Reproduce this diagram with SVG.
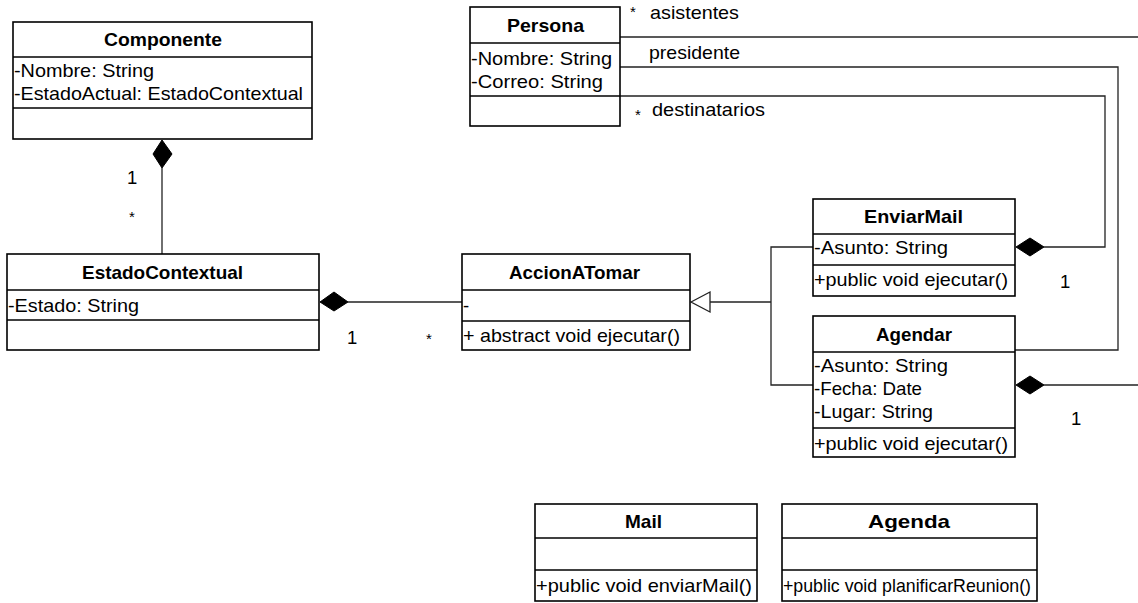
<svg xmlns="http://www.w3.org/2000/svg" width="1138" height="603" viewBox="0 0 1138 603">
  <style>
    .box { fill: #ffffff; stroke: #000000; stroke-width: 1.6; }
    .div { stroke: #000000; stroke-width: 1.6; }
    .title { font-family: "Liberation Sans", Arial, sans-serif; font-size: 18.5px; font-weight: bold; text-anchor: middle; fill: #000; }
    .txt { font-family: "Liberation Sans", Arial, sans-serif; font-size: 18.5px; fill: #000; }
    .lbl { font-family: "Liberation Sans", Arial, sans-serif; font-size: 18.5px; fill: #000; }
    .ast { font-family: "Liberation Sans", Arial, sans-serif; font-size: 15px; fill: #000; }
    .edge { fill: none; stroke: #222222; stroke-width: 1.3; }
    .dia { fill: #000000; stroke: #000000; stroke-width: 1; }
  </style>
  <rect width="1138" height="603" fill="#ffffff"/>

  <!-- connectors -->
  <g id="connectors">
    <!-- Componente composes EstadoContextual -->
    <line class="edge" x1="162" y1="168" x2="162" y2="254"/>
    <polygon class="dia" points="162,140 172,154 162,168 153,154"/>
    <!-- EstadoContextual composes AccionATomar -->
    <line class="edge" x1="348" y1="302" x2="462" y2="302"/>
    <polygon class="dia" points="320,302 334,292 348,302 334,311"/>
    <!-- generalization to AccionATomar -->
    <polyline class="edge" points="710,302 771,302"/>
    <polyline class="edge" points="813,247 771,247 771,385 813,385"/>
    <polygon points="691,302 710,292 710,312" fill="#ffffff" stroke="#222222" stroke-width="1.3"/>
    <!-- Persona associations -->
    <line class="edge" x1="620" y1="37" x2="1138" y2="37"/>
    <polyline class="edge" points="620,67 1118,67 1118,350 1015,350"/>
    <polyline class="edge" points="620,96 1105,96 1105,247 1044,247"/>
    <polygon class="dia" points="1016,247 1030,238 1044,247 1030,256"/>
    <line class="edge" x1="1044" y1="385" x2="1138" y2="385"/>
    <polygon class="dia" points="1016,385 1030,376 1044,385 1030,394"/>
    <!-- multiplicities and role names -->
    <text class="lbl" x="127" y="184">1</text>
    <text class="ast" x="129" y="222">*</text>
    <text class="lbl" x="347" y="344">1</text>
    <text class="ast" x="426" y="344">*</text>
    <text class="lbl" x="1060" y="288">1</text>
    <text class="lbl" x="1071" y="425">1</text>
    <text class="ast" x="630" y="17">*</text>
    <text class="lbl" x="650" y="19" textLength="89" lengthAdjust="spacingAndGlyphs">asistentes</text>
    <text class="lbl" x="649" y="59" textLength="91" lengthAdjust="spacingAndGlyphs">presidente</text>
    <text class="ast" x="635" y="120">*</text>
    <text class="lbl" x="652" y="116" textLength="113" lengthAdjust="spacingAndGlyphs">destinatarios</text>
  </g>

  <g id="Componente">
    <rect class="box" x="13" y="22" width="299" height="117"/>
    <line class="div" x1="13" y1="57" x2="312" y2="57"/>
    <line class="div" x1="13" y1="108" x2="312" y2="108"/>
    <text class="title" x="163" y="46" textLength="118" lengthAdjust="spacingAndGlyphs">Componente</text>
    <text class="txt" x="14" y="77" textLength="140" lengthAdjust="spacingAndGlyphs">-Nombre: String</text>
    <text class="txt" x="14" y="100" textLength="289" lengthAdjust="spacingAndGlyphs">-EstadoActual: EstadoContextual</text>
  </g>

  <g id="Persona">
    <rect class="box" x="470" y="7" width="150" height="119"/>
    <line class="div" x1="470" y1="43" x2="620" y2="43"/>
    <line class="div" x1="470" y1="96" x2="620" y2="96"/>
    <text class="title" x="545.5" y="32" textLength="77" lengthAdjust="spacingAndGlyphs">Persona</text>
    <text class="txt" x="471" y="65" textLength="141" lengthAdjust="spacingAndGlyphs">-Nombre: String</text>
    <text class="txt" x="471" y="88" textLength="132" lengthAdjust="spacingAndGlyphs">-Correo: String</text>
  </g>

  <g id="EstadoContextual">
    <rect class="box" x="7" y="254" width="312" height="96"/>
    <line class="div" x1="7" y1="290" x2="319" y2="290"/>
    <line class="div" x1="7" y1="320" x2="319" y2="320"/>
    <text class="title" x="162.5" y="279" textLength="161" lengthAdjust="spacingAndGlyphs">EstadoContextual</text>
    <text class="txt" x="8" y="312" textLength="131" lengthAdjust="spacingAndGlyphs">-Estado: String</text>
  </g>

  <g id="AccionATomar">
    <rect class="box" x="462" y="254" width="228" height="96"/>
    <line class="div" x1="462" y1="290" x2="690" y2="290"/>
    <line class="div" x1="462" y1="321" x2="690" y2="321"/>
    <text class="title" x="574.5" y="279" textLength="131" lengthAdjust="spacingAndGlyphs">AccionATomar</text>
    <text class="txt" x="463" y="312">-</text>
    <text class="txt" x="463" y="342" textLength="217" lengthAdjust="spacingAndGlyphs">+ abstract void ejecutar()</text>
  </g>

  <g id="EnviarMail">
    <rect class="box" x="813" y="199" width="202" height="97"/>
    <line class="div" x1="813" y1="234" x2="1015" y2="234"/>
    <line class="div" x1="813" y1="265" x2="1015" y2="265"/>
    <text class="title" x="913.5" y="223" textLength="99" lengthAdjust="spacingAndGlyphs">EnviarMail</text>
    <text class="txt" x="814" y="254" textLength="134" lengthAdjust="spacingAndGlyphs">-Asunto: String</text>
    <text class="txt" x="814" y="286" textLength="194" lengthAdjust="spacingAndGlyphs">+public void ejecutar()</text>
  </g>

  <g id="Agendar">
    <rect class="box" x="813" y="316" width="202" height="141"/>
    <line class="div" x1="813" y1="352" x2="1015" y2="352"/>
    <line class="div" x1="813" y1="428" x2="1015" y2="428"/>
    <text class="title" x="914" y="341" textLength="76" lengthAdjust="spacingAndGlyphs">Agendar</text>
    <text class="txt" x="814" y="372" textLength="134" lengthAdjust="spacingAndGlyphs">-Asunto: String</text>
    <text class="txt" x="814" y="395" textLength="108" lengthAdjust="spacingAndGlyphs">-Fecha: Date</text>
    <text class="txt" x="814" y="418" textLength="119" lengthAdjust="spacingAndGlyphs">-Lugar: String</text>
    <text class="txt" x="814" y="450" textLength="194" lengthAdjust="spacingAndGlyphs">+public void ejecutar()</text>
  </g>

  <g id="Mail">
    <rect class="box" x="535" y="504" width="222" height="97"/>
    <line class="div" x1="535" y1="538" x2="757" y2="538"/>
    <line class="div" x1="535" y1="570" x2="757" y2="570"/>
    <text class="title" x="643.5" y="528" textLength="37" lengthAdjust="spacingAndGlyphs">Mail</text>
    <text class="txt" x="536" y="592" textLength="216" lengthAdjust="spacingAndGlyphs">+public void enviarMail()</text>
  </g>

  <g id="Agenda">
    <rect class="box" x="782" y="504" width="255" height="97"/>
    <line class="div" x1="782" y1="538" x2="1037" y2="538"/>
    <line class="div" x1="782" y1="570" x2="1037" y2="570"/>
    <text class="title" x="909" y="528" textLength="82" lengthAdjust="spacingAndGlyphs">Agenda</text>
    <text class="txt" x="783" y="592" textLength="248" lengthAdjust="spacingAndGlyphs">+public void planificarReunion()</text>
  </g>
</svg>
